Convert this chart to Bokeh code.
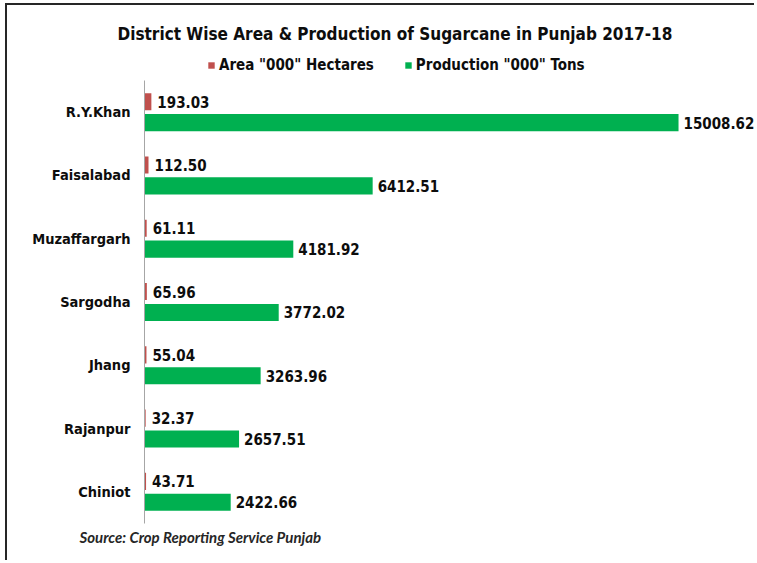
from bokeh.plotting import figure
from bokeh.models import ColumnDataSource, Legend, LegendItem, Title, Range1d, FixedTicker
from bokeh.transform import dodge
from bokeh.core.properties import value
from bokeh.embed import file_html
from bokeh.resources import INLINE

districts = ["R.Y.Khan", "Faisalabad", "Muzaffargarh", "Sargodha", "Jhang", "Rajanpur", "Chiniot"]
area = [193.03, 112.50, 61.11, 65.96, 55.04, 32.37, 43.71]
production = [15008.62, 6412.51, 4181.92, 3772.02, 3263.96, 2657.51, 2422.66]

title_text = "District Wise Area & Production of Sugarcane in Punjab 2017-18"
area_label = 'Area "000" Hectares'
prod_label = 'Production "000" Tons'
source_text = "Source: Crop Reporting Service Punjab"

RED = "#C0504D"
GREEN = "#00B050"
FONT = "DejaVu Sans Condensed"
TXT = "#0D0D0D"

n = len(districts)
pos = [n - i for i in range(n)]  # top-to-bottom order

src = ColumnDataSource(dict(
    pos=pos,
    area=area,
    production=production,
    area_txt=[f"{v:.2f}" for v in area],
    prod_txt=[f"{v:.2f}" for v in production],
))

W, H = 749, 557
p = figure(
    width=W, height=H,
    x_range=Range1d(0, 17200), y_range=Range1d(0.5, 7.9424),
    x_axis_location=None,
    output_backend="svg", toolbar_location=None,
    min_border_left=137, min_border_right=0, min_border_top=47, min_border_bottom=39,
    styles={"border-top": "2px solid #262626", "border-left": "2px solid #262626",
            "margin-left": "5px", "margin-top": "3px"},
)

p.title.text = title_text
p.title.align = "left"
p.title.offset = -27
p.title.text_font = FONT
p.title.text_font_style = "bold"
p.title.text_font_size = "17px"
p.title.text_color = TXT
p.title.standoff = 18

OFF = 0.165
BH = 0.27
r_area = p.hbar(y=dodge("pos", OFF), right="area", left=0, height=BH,
                source=src, fill_color=RED, line_color=None)
r_prod = p.hbar(y=dodge("pos", -OFF), right="production", left=0, height=BH,
                source=src, fill_color=GREEN, line_color=None)

p.text(x="area", y=dodge("pos", OFF), text="area_txt", source=src,
       x_offset=6, text_baseline="middle", text_align="left",
       text_font=value(FONT), text_font_style="bold", text_font_size="15px", text_color=TXT)
p.text(x="production", y=dodge("pos", -OFF), text="prod_txt", source=src,
       x_offset=5, text_baseline="middle", text_align="left",
       text_font=value(FONT), text_font_style="bold", text_font_size="15px", text_color=TXT)

p.xgrid.visible = False
p.ygrid.visible = False
p.outline_line_color = None

ya = p.yaxis[0]
ya.ticker = FixedTicker(ticks=pos)
ya.major_label_overrides = {pv: d for pv, d in zip(pos, districts)}
ya.bounds = (0.5, n + 0.5)
ya.axis_line_color = "#A6A6A6"
ya.axis_line_width = 1
ya.major_tick_line_color = None
ya.minor_tick_line_color = None
ya.major_tick_out = 0
ya.major_tick_in = 0
ya.major_label_standoff = 14
ya.major_label_text_font = FONT
ya.major_label_text_font_style = "bold"
ya.major_label_text_font_size = "14.5px"
ya.major_label_text_color = TXT

legend = Legend(items=[LegendItem(label=area_label, renderers=[r_area]),
                       LegendItem(label=prod_label, renderers=[r_prod])],
                orientation="horizontal", location=(63, 449),
                glyph_width=8, glyph_height=8, label_standoff=4, spacing=30,
                padding=0, margin=0, border_line_color=None, background_fill_alpha=0,
                label_text_font=FONT, label_text_font_style="bold", label_text_font_size="15px",
                label_text_color=TXT, label_height=8)
p.add_layout(legend, "center")

p.add_layout(Title(text=source_text, align="left", offset=-65, text_font="Lato",
                   text_font_style="bold italic", text_font_size="15px", text_color="#262626",
                   standoff=4), "below")

open("out.html", "w").write(file_html(p, INLINE))
